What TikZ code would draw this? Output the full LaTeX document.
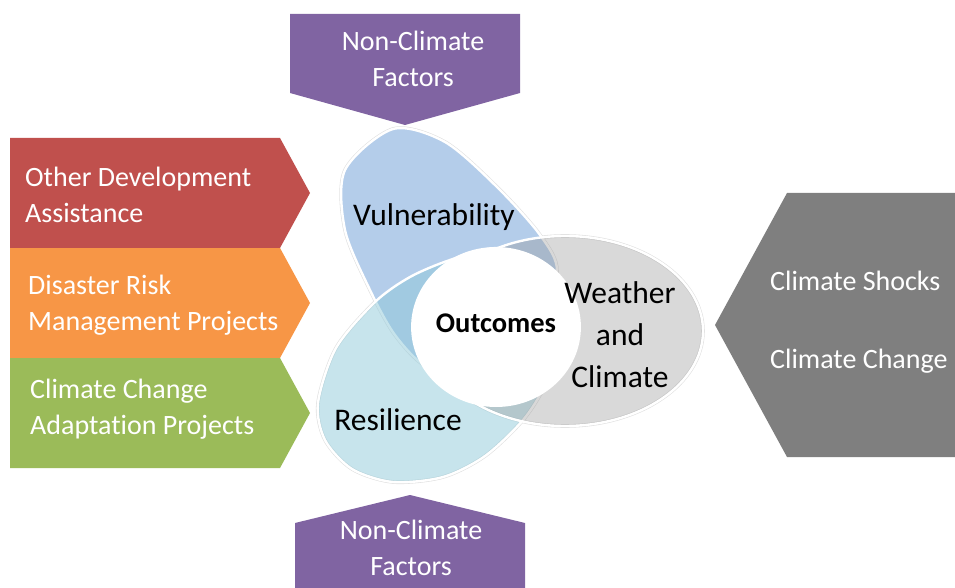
\documentclass[tikz,border=0pt]{standalone}
\usepackage{fontspec}
\setmainfont{Carlito}[Ligatures=NoCommon]
\usetikzlibrary{shapes.geometric}
\definecolor{odared}{HTML}{C0504D}
\definecolor{drmorange}{HTML}{F79646}
\definecolor{ccagreen}{HTML}{9BBB59}
\definecolor{ncpurple}{HTML}{8064A2}
\definecolor{climgray}{HTML}{7F7F7F}
\definecolor{vulblue}{RGB}{180,205,234}
\definecolor{resaqua}{RGB}{143,201,217}
\definecolor{wcgray}{RGB}{146,146,146}
\begin{document}
\begin{tikzpicture}[x=1pt, y=-1pt,
    boxtext/.style={text=white, inner sep=0pt, font=\fontsize{28}{36}\selectfont},
    petal/.style={draw=white, line width=2.4pt},
    halo/.style={draw=black!12, line width=3.6pt},
    petaltext/.style={text=black, inner sep=0pt, align=center, font=\fontsize{31.5}{42}\selectfont}]

    \useasboundingbox (0,0) rectangle (955,588);

    % side boxes
    \fill [odared]    (10,138) -- (280,138) -- (310,193) -- (280,248) -- (10,248) -- cycle;
    \fill [drmorange] (10,248) -- (280,248) -- (310,303) -- (280,358) -- (10,358) -- cycle;
    \fill [ccagreen]  (10,358) -- (280,358) -- (310,413) -- (280,468) -- (10,468) -- cycle;
    \fill [ncpurple]  (290,14) -- (520,14) -- (520,93) -- (405,125) -- (290,93) -- cycle;
    \fill [ncpurple]  (295,588) -- (295,523) -- (410,495) -- (525,523) -- (525,588) -- cycle;
    \fill [climgray]  (955,193) -- (787,193) -- (715,325) -- (787,457) -- (955,457) -- cycle;

    \node (oda)   [boxtext, anchor=west, align=left] at (25,195)  {Other Development\\Assistance};
    \node (drm)   [boxtext, anchor=west, align=left] at (28,305)  {Disaster Risk\\Management Projects};
    \node (cca)   [boxtext, anchor=west, align=left] at (30,409)  {Climate Change\\Adaptation Projects};
    \node (nctop) [boxtext, align=center] at (413,59)  {Non-Climate\\Factors};
    \node (ncbot) [boxtext, align=center] at (411,548) {Non-Climate\\Factors};
    \node (clim)  [boxtext, anchor=west, align=left, font=\fontsize{28}{78}\selectfont] at (770,322) {Climate Shocks\\Climate Change};

    % petals
    \path [halo] plot [smooth cycle] coordinates {(393,129) (445,142) (497,187) (540,235) (557,272) (535,330)
        (475,378) (427,367) (395,335) (370,290) (345,230) (345,170)};
    \path [halo] plot [smooth cycle] coordinates {(375,302) (410,277) (450,260) (497,248) (530,262) (553,300)
        (553,350) (545,385) (523,420) (485,456) (443,477) (393,482) (352,469) (325,440) (318,403) (336,348)};
    \path [halo] (565,331) ellipse [x radius=138pt, y radius=95pt];

    \path [petal, fill=vulblue] plot [smooth cycle] coordinates {(393,129) (445,142) (497,187) (540,235) (557,272) (535,330)
        (475,378) (427,367) (395,335) (370,290) (345,230) (345,170)};
    \path [petal, fill=resaqua, fill opacity=0.5] plot [smooth cycle] coordinates {(375,302) (410,277) (450,260) (497,248) (530,262) (553,300)
        (553,350) (545,385) (523,420) (485,456) (443,477) (393,482) (352,469) (325,440) (318,403) (336,348)};
    \path [petal, fill=wcgray, fill opacity=0.35] (565,331) ellipse [x radius=138pt, y radius=95pt];

    \node (out) [ellipse, fill=white, inner sep=0pt, minimum width=148pt, minimum height=160pt, text depth=8pt,
        font=\bfseries\fontsize{28.5}{32}\selectfont] at (496,327) {Outcomes};

    \node (vul) [petaltext] at (434,217) {Vulnerability};
    \node (wc)  [petaltext] at (620,335) {Weather\\and\\Climate};
    \node (res) [petaltext] at (398,420) {Resilience};
\end{tikzpicture}
\end{document}
